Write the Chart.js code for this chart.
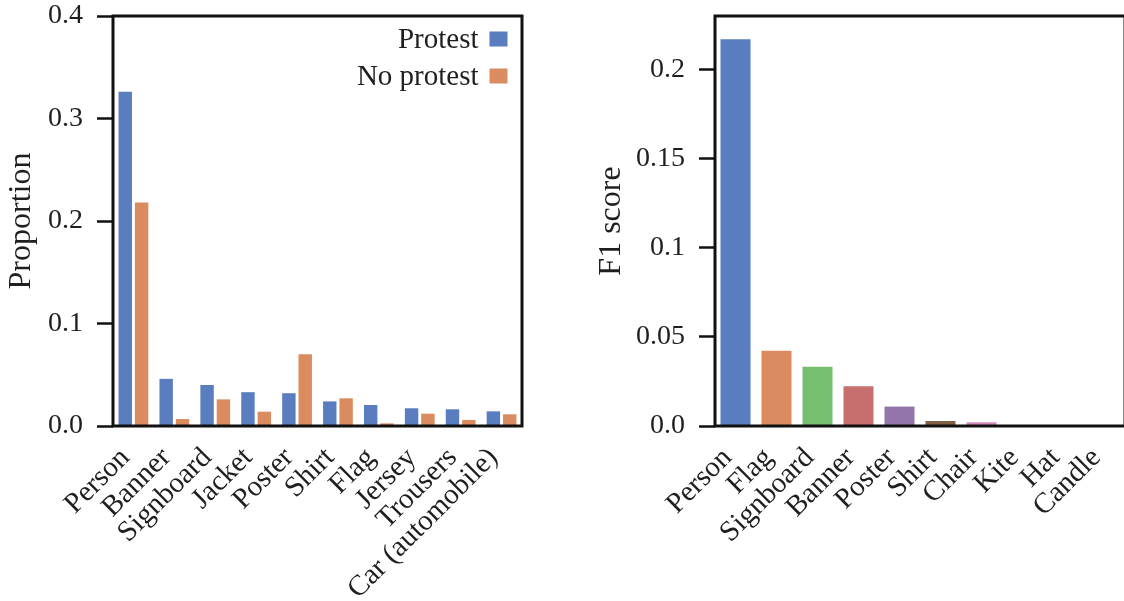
<!DOCTYPE html>
<html>
<head>
<meta charset="utf-8">
<script src="https://cdn.jsdelivr.net/npm/chart.js@4.4.1/dist/chart.umd.min.js"></script>
<style>
  html, body { margin: 0; padding: 0; background: #ffffff; width: 1124px; height: 601px; overflow: hidden; }
  #c1 { position: absolute; left: 0; top: 0; }
  #c2 { position: absolute; left: 570px; top: 0; }
</style>
</head>
<body>
<canvas id="c1" width="570" height="601"></canvas>
<canvas id="c2" width="560" height="601"></canvas>
<script>
// ---------- data ----------
const leftCategories = ['Person', 'Banner', 'Signboard', 'Jacket', 'Poster', 'Shirt', 'Flag', 'Jersey', 'Trousers', 'Car (automobile)'];
const protestValues = [0.326, 0.046, 0.040, 0.033, 0.032, 0.024, 0.0205, 0.0173, 0.0163, 0.0143];
const noProtestValues = [0.218, 0.0068, 0.026, 0.014, 0.070, 0.027, 0.0026, 0.012, 0.0059, 0.0114];
const seriesNames = ['Protest', 'No protest'];
const leftTicks = [0, 0.1, 0.2, 0.3, 0.4];
const leftTickLabels = ['0.0', '0.1', '0.2', '0.3', '0.4'];

const rightCategories = ['Person', 'Flag', 'Signboard', 'Banner', 'Poster', 'Shirt', 'Chair', 'Kite', 'Hat', 'Candle'];
const f1Values = [0.2172, 0.0423, 0.0333, 0.0223, 0.0109, 0.0028, 0.0021, 0, 0, 0];
const rightTicks = [0, 0.05, 0.1, 0.15, 0.2];
const rightTickLabels = ['0.0', '0.05', '0.1', '0.15', '0.2'];
const rightMax = 0.2303;

const seriesColors = ['#597dbf', '#da8b5f'];
const barColors = ['#597dbf', '#da8b5f', '#76bf71', '#c76e6e', '#9475ab', '#826246', '#d08abb', '#797979', '#c7b375', '#8ec1d6'];

// ---------- style ----------
const FONT = "'Liberation Serif', 'Times New Roman', serif";
const TXT = '#1f1f1f';
const LINE = '#111111';
Chart.defaults.font.family = FONT;
Chart.defaults.color = TXT;

const framePlugin = {
  id: 'frame',
  afterDatasetsDraw(chart) {
    const a = chart.chartArea, ctx = chart.ctx;
    ctx.save();
    ctx.strokeStyle = LINE;
    ctx.lineWidth = 3;
    ctx.strokeRect(a.left, a.top, a.right - a.left, a.bottom - a.top);
    ctx.restore();
  }
};

const legendPlugin = {
  id: 'rightLegend',
  afterDraw(chart) {
    const a = chart.chartArea, ctx = chart.ctx;
    ctx.save();
    ctx.font = '29px ' + FONT;
    ctx.textAlign = 'right';
    ctx.textBaseline = 'alphabetic';
    chart.data.datasets.forEach((ds, i) => {
      const cy = a.top + 23 + 37 * i;
      const sqRight = a.right - 14.5;
      ctx.fillStyle = ds.backgroundColor;
      ctx.fillRect(sqRight - 18, cy - 7.5, 18, 15);
      ctx.fillStyle = TXT;
      ctx.fillText(ds.label, sqRight - 29, cy + 9);
    });
    ctx.restore();
  }
};

function zeroPad(scale) {
  scale.paddingTop = 0; scale.paddingBottom = 0; scale.paddingLeft = 0; scale.paddingRight = 0;
}

function xScale(cats) {
  return {
    type: 'category',
    offset: true,
    grid: { display: false, drawTicks: false },
    border: { display: false },
    ticks: {
      autoSkip: false,
      minRotation: 45,
      maxRotation: 45,
      padding: 17,
      labelOffset: -8,
      color: TXT,
      font: { size: 29, lineHeight: 1 }
    },
    afterFit(scale) { scale.height = 175; zeroPad(scale); }
  };
}

function yScale(ticks, labels, min, max, title, width, titlePad) {
  return {
    type: 'linear',
    min: min,
    max: max,
    grid: { display: true, drawOnChartArea: false, drawTicks: true, tickLength: 16, tickWidth: 2.5, tickColor: LINE },
    border: { display: false },
    ticks: {
      padding: 14,
      color: TXT,
      font: { size: 28, lineHeight: 1 },
      callback: (v, i) => labels[i]
    },
    afterBuildTicks(scale) { scale.ticks = ticks.map(v => ({ value: v })); },
    title: { display: true, text: title, color: TXT, font: { size: 32, lineHeight: 1 }, padding: { top: titlePad, bottom: 0 } },
    afterFit(scale) { scale.width = width; zeroPad(scale); }
  };
}

new Chart(document.getElementById('c1'), {
  type: 'bar',
  data: {
    labels: leftCategories,
    datasets: [
      { label: seriesNames[0], data: protestValues, backgroundColor: seriesColors[0], borderWidth: 0, categoryPercentage: 0.8, barPercentage: 0.82 },
      { label: seriesNames[1], data: noProtestValues, backgroundColor: seriesColors[1], borderWidth: 0, categoryPercentage: 0.8, barPercentage: 0.82 }
    ]
  },
  options: {
    responsive: false,
    animation: false,
    layout: { padding: { top: 16, right: 48, left: 0, bottom: 0 } },
    plugins: { legend: { display: false }, tooltip: { enabled: false } },
    scales: {
      x: xScale(leftCategories),
      y: yScale(leftTicks, leftTickLabels, 0, 0.4, 'Proportion', 113, 6)
    }
  },
  plugins: [framePlugin, legendPlugin]
});

new Chart(document.getElementById('c2'), {
  type: 'bar',
  data: {
    labels: rightCategories,
    datasets: [
      { label: 'F1 score', data: f1Values, backgroundColor: barColors, borderWidth: 0, categoryPercentage: 0.8, barPercentage: 0.915 }
    ]
  },
  options: {
    responsive: false,
    animation: false,
    layout: { padding: { top: 16, right: 5, left: 0, bottom: 0 } },
    plugins: { legend: { display: false }, tooltip: { enabled: false } },
    scales: {
      x: xScale(rightCategories),
      y: yScale(rightTicks, rightTickLabels, 0, rightMax, 'F1 score', 145, 26)
    }
  },
  plugins: [framePlugin]
});
</script>
</body>
</html>
